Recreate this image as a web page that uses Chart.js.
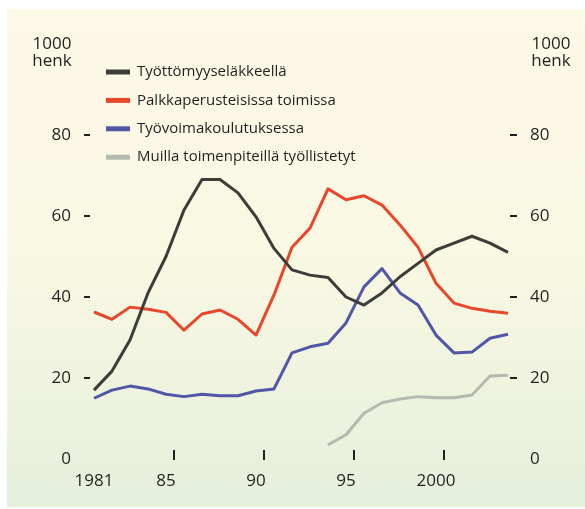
<!DOCTYPE html>
<html>
<head>
<meta charset="utf-8">
<script src="https://cdn.jsdelivr.net/npm/chart.js@4.4.1/dist/chart.umd.min.js"></script>
<style>
  html, body { margin: 0; padding: 0; background: #ffffff; }
  #wrap { width: 585px; height: 509px; }
</style>
</head>
<body>
<div id="wrap"><canvas id="c" width="585" height="509"></canvas></div>
<script>
// ---- data ----
const years = [1981,1982,1983,1984,1985,1986,1987,1988,1989,1990,1991,1992,1993,1994,1995,1996,1997,1998,1999,2000,2001,2002,2003,2004];
const seriesNames = ["Työttömyyseläkkeellä", "Palkkaperusteisissa toimissa", "Työvoimakoulutuksessa", "Muilla toimenpiteillä työllistetyt"];
const tyottomyyselake = [17,21.7,29.4,41,50,61.5,69,69,65.7,59.8,52,46.7,45.4,44.8,40,38,41,45,48.3,51.6,53.3,55,53.3,51];
const palkkaperusteiset = [36.3,34.5,37.5,37,36.2,31.8,35.8,36.8,34.5,30.6,40.5,52.3,57,66.7,64,65,62.7,57.8,52.3,43.4,38.5,37.2,36.5,36];
const tyovoimakoulutus = [15,17,18,17.3,16,15.4,16,15.6,15.6,16.8,17.3,26.2,27.7,28.6,33.6,42.5,47,41,38,30.6,26.2,26.4,29.8,30.8];
const muutToimenpiteet = [null,null,null,null,null,null,null,null,null,null,null,null,null,3.5,6,11.3,13.9,14.8,15.4,15.1,15.1,15.8,20.5,20.7];
const xTickValues = [1981,1985,1990,1995,2000];
const xTickLabels = ["1981","85","90","95","2000"];
const yTickValues = [0,20,40,60,80];
const yAxisTitle = ["1000","henk"];

const colors = ["#3c3c38", "#e8472b", "#4f57a6", "#b5b9b0"];
const FONT = "'Open Sans', 'DejaVu Sans', sans-serif";
const TXT = "#231f20";

function pts(arr){ return years.map((y,i)=>({x:y, y:arr[i]})); }

const allSeries = [tyottomyyselake, palkkaperusteiset, tyovoimakoulutus, muutToimenpiteet];
const datasets = allSeries.map((s,i)=>({
  label: seriesNames[i],
  data: pts(s),
  borderColor: colors[i],
  backgroundColor: colors[i],
  borderWidth: 3,
  pointRadius: 0,
  tension: 0,
  borderJoinStyle: 'round',
  borderCapStyle: 'butt',
  spanGaps: false,
  clip: false
}));

const decor = {
  id: 'decor',
  beforeDraw(chart){
    const ctx = chart.ctx;
    ctx.save();
    const g = ctx.createLinearGradient(0, 9, 0, 507);
    g.addColorStop(0, '#fcf9e7');
    g.addColorStop(0.5, '#f9f8e3');
    g.addColorStop(1, '#e5efdb');
    ctx.fillStyle = g;
    ctx.fillRect(7, 9, 578, 498);
    ctx.restore();
  },
  afterDraw(chart){
    const ctx = chart.ctx;
    const xs = chart.scales.x, ys = chart.scales.y;
    ctx.save();
    // axis titles
    ctx.fillStyle = TXT;
    ctx.font = "17px " + FONT;
    ctx.textAlign = 'center';
    ctx.textBaseline = 'middle';
    yAxisTitle.forEach((t,i)=>{
      ctx.fillText(t, 52, 44 + i*17);
      ctx.fillText(t, 551, 44 + i*17);
    });
    // x tick marks "|"
    ctx.strokeStyle = TXT;
    ctx.lineWidth = 2;
    const y0 = ys.getPixelForValue(0);
    xTickValues.slice(1).forEach(v=>{
      const px = Math.round(xs.getPixelForValue(v + 0.44));
      ctx.beginPath();
      ctx.moveTo(px, y0 - 9);
      ctx.lineTo(px, y0 + 1);
      ctx.stroke();
    });
    // legend
    ctx.font = "15px " + FONT;
    ctx.textAlign = 'left';
    chart.data.datasets.forEach((ds,i)=>{
      const cy = 72 + i*28.4;
      ctx.fillStyle = ds.borderColor;
      ctx.fillRect(106, cy - 2.5, 24, 5);
      ctx.fillStyle = TXT;
      ctx.fillText(ds.label, 137, cy);
    });
    ctx.restore();
  }
};

const yCommon = {
  type: 'linear',
  min: 0, max: 80,
  border: { display: false },
  afterBuildTicks(scale){ scale.ticks = yTickValues.map(v=>({value:v})); },
  grid: {
    drawOnChartArea: false,
    drawTicks: true,
    lineWidth: 2,
    tickColor: (c)=> (c.tick && c.tick.value === 0) ? 'rgba(0,0,0,0)' : TXT
  },
  ticks: {
    color: TXT,
    font: { family: FONT, size: 17 },
    padding: 13,
    callback: (v)=> String(v)
  }
};

new Chart(document.getElementById('c'), {
  type: 'line',
  data: { datasets },
  options: {
    responsive: false,
    animation: false,
    devicePixelRatio: 1,
    layout: { padding: { top: 135, left: 0, right: 0, bottom: 0 } },
    plugins: { legend: { display: false }, tooltip: { enabled: false }, title: { display: false } },
    scales: {
      x: {
        type: 'linear',
        min: 1981 - 4/18,
        max: 2004 + 2/18,
        border: { display: false },
        grid: { display: false, drawTicks: false },
        afterBuildTicks(scale){ scale.ticks = xTickValues.map(v=>({value:v})); },
        afterFit(scale){ scale.height = 50; },
        ticks: {
          autoSkip: false, maxRotation: 0, minRotation: 0,
          color: TXT,
          font: { family: FONT, size: 17 },
          padding: 12,
          callback: (v)=> { const i = xTickValues.indexOf(v); return i >= 0 ? xTickLabels[i] : ''; }
        }
      },
      y: Object.assign({}, yCommon, {
        position: 'left',
        afterFit(scale){ scale.width = 90; },
        grid: Object.assign({}, yCommon.grid, { tickLength: 6 })
      }),
      y2: Object.assign({}, yCommon, {
        position: 'right',
        afterFit(scale){ scale.width = 75; },
        grid: Object.assign({}, yCommon.grid, { tickLength: 7 })
      })
    }
  },
  plugins: [decor]
});
</script>
</body>
</html>
